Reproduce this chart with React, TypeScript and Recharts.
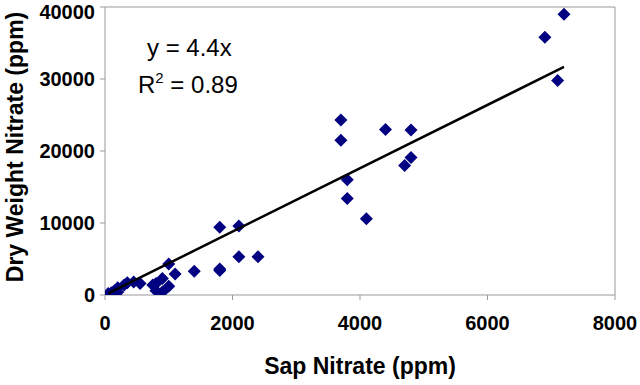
import React from "react"
import { Label, ReferenceLine, Scatter, ScatterChart, XAxis, YAxis } from "recharts"

// sap nitrate (ppm)
const sapNitrate = [
    7200, 6900, 7100, 3700, 3700, 4400, 4800, 4800, 4700, 3800, 3800, 4100,
    1800, 2100, 2100, 2400, 1800, 1800, 1400, 1100, 1000, 900, 800, 750,
    1000, 800, 900, 550, 450, 350, 300, 200, 150, 200, 100, 50,
]
// dry weight nitrate (ppm), same order
const dryWeightNitrate = [
    39000, 35800, 29800, 24300, 21500, 23000, 22900, 19100, 18000, 16000, 13400, 10600,
    9400, 9600, 5300, 5300, 3600, 3400, 3300, 2900, 4300, 2300, 1600, 1400,
    1200, 600, 400, 1600, 1800, 1700, 1400, 1000, 600, 400, 300, 200,
]
const xTicks = [0, 2000, 4000, 6000, 8000]
const yTicks = [0, 10000, 20000, 30000, 40000]
const slope = 4.4

const points = sapNitrate.map((x, i) => ({ x, y: dryWeightNitrate[i] }))
const xMin = Math.min(...sapNitrate)
const xMax = Math.max(...sapNitrate)
const trend = [
    { x: xMin, y: slope * xMin },
    { x: xMax, y: slope * xMax },
]

const font = "'Liberation Sans', Arial, sans-serif"
const tickStyle = { fontFamily: font, fontSize: 20, fontWeight: "bold", fill: "#000" }

const Diamond = (props: any) => {
    const { cx, cy } = props
    const r = 6.5
    return <path d={`M${cx},${cy - r}L${cx + r},${cy}L${cx},${cy + r}L${cx - r},${cy}Z`} fill="#000080" />
}

const YTitle = (props: any) => {
    const cy = 147
    return (
        <text x={15} y={cy} transform={`rotate(-90 15 ${cy})`} textAnchor="middle" dominantBaseline="central"
            style={{ fontFamily: font, fontSize: 23, fontWeight: "bold" }} fill="#000">
            Dry Weight Nitrate (ppm)
        </text>
    )
}

const App = () => (
    <div style={{ position: "absolute", left: 0, top: 0, width: 640, height: 385, background: "#fff" }}>
        <ScatterChart width={640} height={385} margin={{ top: 7, right: 25, bottom: 0, left: 0 }}>
            <XAxis type="number" dataKey="x" domain={[0, 8000]} ticks={xTicks} height={90}
                stroke="#999" tickSize={5} tickMargin={16} tick={tickStyle} allowDataOverflow>
                <Label value="Sap Nitrate (ppm)" position="insideBottom" offset={11}
                    style={{ fontFamily: font, fontSize: 23, fontWeight: "bold", fill: "#000" }} />
            </XAxis>
            <YAxis type="number" dataKey="y" domain={[0, 40000]} ticks={yTicks} width={105}
                stroke="#999" tickSize={5} tickMargin={5} tick={tickStyle} allowDataOverflow>
                <Label content={<YTitle />} />
            </YAxis>
            <ReferenceLine y={40000} stroke="#999" />
            <ReferenceLine x={8000} stroke="#999" />
            <Scatter data={points} shape={<Diamond />} isAnimationActive={false} />
            <Scatter data={trend} line={{ stroke: "#000", strokeWidth: 2.5 }} shape={() => <g />}
                isAnimationActive={false} />
        </ScatterChart>
        <svg width={640} height={385} style={{ position: "absolute", left: 0, top: 0, pointerEvents: "none" }}>
            <text x={147} y={56} style={{ fontFamily: font, fontSize: 24 }} fill="#000">y = 4.4x</text>
            <text x={138} y={93} style={{ fontFamily: font, fontSize: 24 }} fill="#000">
                R<tspan dy={-10} fontSize={15}>2</tspan><tspan dy={10}> = 0.89</tspan>
            </text>
        </svg>
    </div>
)

export default App
